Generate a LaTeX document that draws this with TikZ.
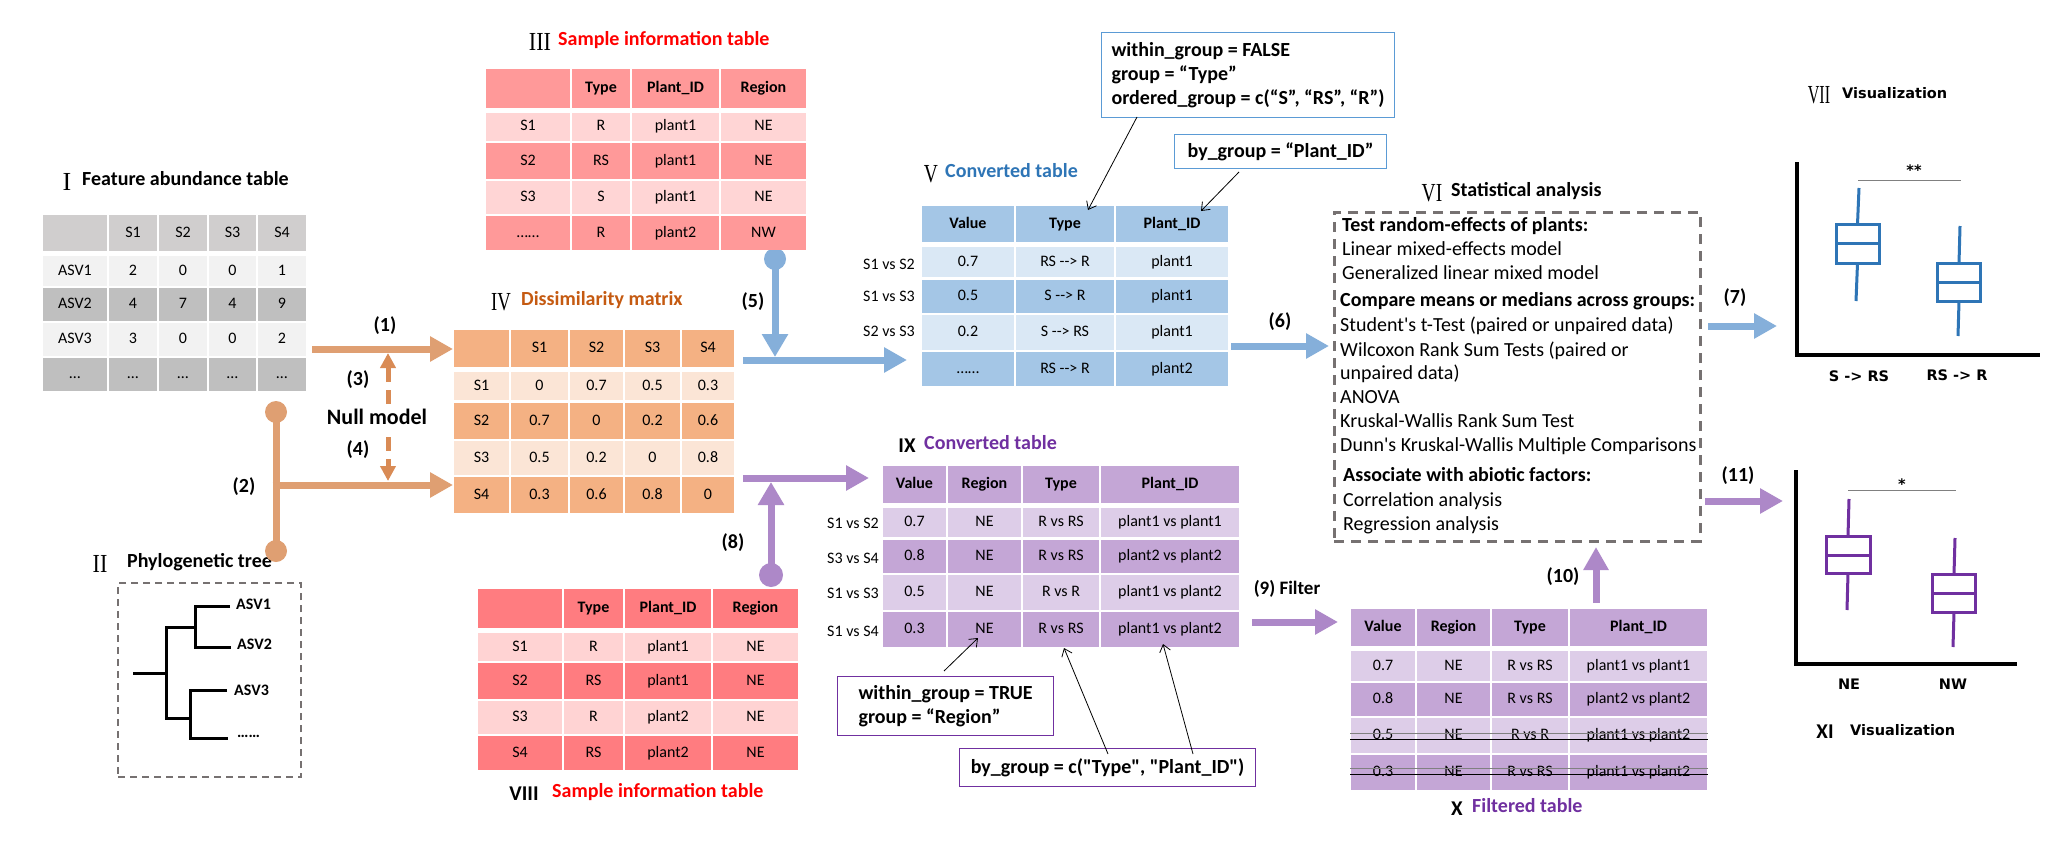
\documentclass[tikz,border=0pt]{standalone}
\usepackage{graphicx}
\usepackage{fontspec}
\setmainfont{Carlito}[Ligatures=TeXOff]
\newfontfamily\serifnum{Liberation Serif}
\newfontfamily\dvs{DejaVu Sans}[Ligatures=TeXOff]
\usetikzlibrary{arrows.meta}
\definecolor{cGa}{HTML}{D0CECE}\definecolor{cGl}{HTML}{F2F2F2}\definecolor{cGd}{HTML}{BFBFBF}
\definecolor{cPa}{HTML}{FF9999}\definecolor{cPl}{HTML}{FFD5D5}
\definecolor{cRd}{HTML}{FF7C80}\definecolor{cRl}{HTML}{FFD3D3}
\definecolor{cOd}{HTML}{F4B183}\definecolor{cOl}{HTML}{FBE5D6}
\definecolor{cBd}{HTML}{A4C6E6}\definecolor{cBl}{HTML}{DAE8F5}
\definecolor{cVd}{HTML}{C4A6D6}\definecolor{cVl}{HTML}{DDCDE8}
\definecolor{aO}{HTML}{DF9F72}\definecolor{aOd}{HTML}{D98B55}
\definecolor{aB}{HTML}{85AFDA}\definecolor{aV}{HTML}{AD88C8}
\definecolor{tRed}{HTML}{FF0000}\definecolor{tOr}{HTML}{C55A11}
\definecolor{tBl}{HTML}{2E75B6}\definecolor{tVi}{HTML}{7030A0}
\definecolor{bxg}{HTML}{767171}\definecolor{cbB}{HTML}{5B9BD5}
\newcommand\tf{\fontsize{16}{19}\selectfont}
\newcommand\tfb{\bfseries\fontsize{16}{19}\selectfont}
\newcommand\rn[2]{\scalebox{#1}[1]{#2}}
\newcommand\trow[6]{\foreach \xa/\xb/\tx [count=\ci] in {#6}{\node[cell,fill=#4,font=#5,minimum width={(\xb-\xa)*1pt},minimum height={(#3-#2)*1pt}] (#1-\ci) at ({(\xa+\xb)/2},{(#2+#3)/2}) {\tx};}}
\pgfdeclarelayer{bg}\pgfsetlayers{bg,main}
\begin{document}
\begin{tikzpicture}[x=1pt,y=-1pt,font=\tf,
  cell/.style={inner sep=0pt,text height=10pt,text depth=2pt,align=center},
  tnum/.style={font=\serifnum\fontsize{26}{26}\selectfont,inner sep=0pt},
  snum/.style={font=\bfseries\fontsize{21}{22}\selectfont,inner sep=0pt},
  ttl/.style={font=\bfseries\fontsize{20}{24}\selectfont,anchor=mid west,inner sep=0pt},
  lbl/.style={font=\bfseries\fontsize{20}{24}\selectfont,inner sep=0pt},
  dlbl/.style={font=\dvs\bfseries\fontsize{14.5}{17}\selectfont,inner sep=0pt},
  rl/.style={font=\tf,inner sep=0pt},
  stt/.style={font=\fontsize{20}{24}\selectfont,anchor=mid west,inner sep=0pt},
  sttb/.style={font=\bfseries\fontsize{20}{24}\selectfont,anchor=mid west,inner sep=0pt},
  fat/.style={line width=7pt,-{Triangle[length=23pt,width=24pt]}},
  dsh/.style={line width=5pt,dash pattern=on 14pt off 8pt,color=aOd,-{Triangle[length=15pt,width=15pt]}},
  callout/.style={font=\bfseries\fontsize{20}{24}\selectfont,inner sep=0pt,line width=1.2pt},
  carr/.style={black,line width=0.8pt,-{Straight Barb[length=7pt,width=11pt]}},
  bp/.style={line width=3pt}]
\useasboundingbox (0,0) rectangle (2068,864);
\begin{pgfonlayer}{bg}
\fill[white] (0,0) rectangle (2068,864);
\end{pgfonlayer}

% ---------- I Feature abundance table
\node[tnum] (n1) at (67,182) {I};
\node[ttl] (ti1) at (82,183) {Feature abundance table};
\trow{t1h}{215}{251}{cGa}{\tf}{43/107/{},109/157/S1,159/207/S2,209/256/S3,258/306/S4}
\trow{t1a}{256}{286}{cGl}{\tf}{43/107/ASV1,109/157/2,159/207/0,209/256/0,258/306/1}
\trow{t1b}{288}{321}{cGd}{\tf}{43/107/ASV2,109/157/4,159/207/7,209/256/4,258/306/9}
\trow{t1c}{323}{356}{cGl}{\tf}{43/107/ASV3,109/157/3,159/207/0,209/256/0,258/306/2}
\trow{t1d}{358}{391}{cGd}{\tf}{43/107/…,109/157/…,159/207/…,209/256/…,258/306/…}

% ---------- II Phylogenetic tree
\node[tnum] (n2) at (100,564) {\rn{0.85}{II}};
\node[ttl] (ti2) at (127,565) {Phylogenetic tree};
\node[draw=bxg,line width=2pt,dash pattern=on 7pt off 5pt,minimum width=183pt,minimum height=194pt,inner sep=0pt] (treebox) at (209.5,680) {};
\draw[line width=3pt] (133,673) -- (166,673);
\draw[line width=3pt] (195,627) -- (166,627) -- (166,718) -- (190,718);
\draw[line width=3pt] (230,606) -- (195,606) -- (195,647) -- (231,647);
\draw[line width=3pt] (227,690) -- (190,690) -- (190,738) -- (228,738);
\node[font=\tfb,anchor=mid west,inner sep=0pt] (asv1) at (236,607) {ASV1};
\node[font=\tfb,anchor=mid west,inner sep=0pt] (asv2) at (237,647) {ASV2};
\node[font=\tfb,anchor=mid west,inner sep=0pt] (asv3) at (234,693) {ASV3};
\node[font=\tfb,anchor=base west,inner sep=0pt] (asvd) at (237,737) {……};

% ---------- III Sample information table
\node[tnum] (n3) at (540,42) {\rn{0.85}{III}};
\node[ttl,text=tRed] (ti3) at (558,43) {Sample information table};
\trow{t3h}{69}{108}{cPa}{\tfb}{486/570/{},572/630/Type,632/719/Plant\_ID,721/806/Region}
\trow{t3a}{113}{141}{cPl}{\tf}{486/570/S1,572/630/R,632/719/plant1,721/806/NE}
\trow{t3b}{143}{179}{cPa}{\tf}{486/570/S2,572/630/RS,632/719/plant1,721/806/NE}
\trow{t3c}{181}{214}{cPl}{\tf}{486/570/S3,572/630/S,632/719/plant1,721/806/NE}
\trow{t3d}{216}{250}{cPa}{\tf}{486/570/……,572/630/R,632/719/plant2,721/806/NW}

% ---------- IV Dissimilarity matrix
\node[tnum] (n4) at (501,302) {\rn{0.72}{IV}};
\node[ttl,text=tOr] (ti4) at (521,303) {Dissimilarity matrix};
\trow{t4h}{330}{367}{cOd}{\tf}{454/509/{},511/568/S1,570/623/S2,625/680/S3,682/734/S4}
\trow{t4a}{372}{400}{cOl}{\tf}{454/509/S1,511/568/0,570/623/0.7,625/680/0.5,682/734/0.3}
\trow{t4b}{403}{439}{cOd}{\tf}{454/509/S2,511/568/0.7,570/623/0,625/680/0.2,682/734/0.6}
\trow{t4c}{441}{475}{cOl}{\tf}{454/509/S3,511/568/0.5,570/623/0.2,625/680/0,682/734/0.8}
\trow{t4d}{477}{513}{cOd}{\tf}{454/509/S4,511/568/0.3,570/623/0.6,625/680/0.8,682/734/0}

% ---------- V Converted table
\node[tnum] (n5) at (931,174) {\rn{0.75}{V}};
\node[ttl,text=tBl] (ti5) at (945,175) {Converted table};
\trow{t5h}{206}{242}{cBd}{\tfb}{922/1014/Value,1016/1114/Type,1116/1228/Plant\_ID}
\trow{t5a}{247}{277}{cBl}{\tf}{922/1014/0.7,1016/1114/RS --> R,1116/1228/plant1}
\trow{t5b}{280}{313}{cBd}{\tf}{922/1014/0.5,1016/1114/S --> R,1116/1228/plant1}
\trow{t5c}{315}{350}{cBl}{\tf}{922/1014/0.2,1016/1114/S --> RS,1116/1228/plant1}
\trow{t5d}{352}{386}{cBd}{\tf}{922/1014/……,1016/1114/RS --> R,1116/1228/plant2}
\node[rl] (v1) at (889,264) {S1 vs S2};
\node[rl] (v2) at (889,296) {S1 vs S3};
\node[rl] (v3) at (889,331) {S2 vs S3};
\node[callout,draw=cbB,minimum width=293pt,minimum height=85pt,anchor=north west,align=left] (cb1) at (1101,32) {within\_group = FALSE\\ group = “Type”\\ ordered\_group = c(“S”, “RS”, “R”)};
\node[callout,draw=cbB,minimum width=212pt,minimum height=34pt,anchor=north west] (cb2) at (1174,134) {by\_group = “Plant\_ID”};
\coordinate (c1a) at (1137,117); \coordinate (c1b) at (1088,210);
\coordinate (c2a) at (1239,172); \coordinate (c2b) at (1201,211);
\draw[carr] (c1a) -- (c1b);
\draw[carr] (c2a) -- (c2b);

% ---------- VI Statistical analysis
\node[tnum] (n6) at (1432,193) {\rn{0.75}{VI}};
\node[ttl] (ti6) at (1451,194) {Statistical analysis};
\node[draw=bxg,line width=3pt,dash pattern=on 10pt off 7pt,minimum width=366pt,minimum height=329pt,inner sep=0pt] (stat) at (1517,376.5) {};
\node[sttb] (sh1) at (1342,229) {Test random-effects of plants:};
\node[sttb] (sh2) at (1340,304) {Compare means or medians across groups:};
\node[sttb] (sh3) at (1343,479) {Associate with abiotic factors:};
\foreach \yy/\sline/\xx [count=\k] in {253/Linear mixed-effects model/1342, 277/Generalized linear mixed model/1342, 329/Student's t-Test (paired or unpaired data)/1340, 354/Wilcoxon Rank Sum Tests (paired or/1340, 377/unpaired data)/1340, 401/ANOVA/1340, 425/Kruskal-Wallis Rank Sum Test/1340, 449/Dunn's Kruskal-Wallis Multiple Comparisons/1340, 504/Correlation analysis/1343, 528/Regression analysis/1343}
  {\node[stt] (sl\k) at (\xx,\yy) {\sline};}

% ---------- VII Visualization
\node[tnum] (n7) at (1819,95) {\rn{0.62}{VII}};
\node[dlbl,anchor=mid west] (ti7) at (1842,96) {Visualization};
\draw[line width=3.5pt] (1797,162) -- (1797,355) -- (2040,355);
\draw[gray,line width=1pt] (1858,180) -- (1961,180);
\node[dlbl] (sig1) at (1914,170) {**};
\draw[bp,tBl] (1836,224) rectangle (1879,263);
\draw[bp,tBl] (1836,243) -- (1879,243);
\draw[bp,tBl] (1859,188) -- (1857.5,224);
\draw[bp,tBl] (1857.5,263) -- (1856,301);
\draw[bp,tBl] (1937,263) rectangle (1980,301);
\draw[bp,tBl] (1937,282) -- (1980,282);
\draw[bp,tBl] (1960,226) -- (1959,263);
\draw[bp,tBl] (1959,301) -- (1958,336);
\node[dlbl] (xl1) at (1859,376) {S -> RS};
\node[dlbl] (xl2) at (1957,375) {RS -> R};

% ---------- XI Visualization
\node[snum] (n11) at (1825,732) {XI};
\node[dlbl,anchor=mid west] (ti11) at (1850,733) {Visualization};
\draw[line width=3.5pt] (1796,470) -- (1796,664) -- (2017,664);
\draw[gray,line width=1pt] (1848,490) -- (1956,490);
\node[dlbl] (sig2) at (1902,484) {*};
\draw[bp,tVi] (1826,536) rectangle (1870,573);
\draw[bp,tVi] (1826,555) -- (1870,555);
\draw[bp,tVi] (1849,499) -- (1848,536);
\draw[bp,tVi] (1848,573) -- (1847,610);
\draw[bp,tVi] (1932,574) rectangle (1975,612);
\draw[bp,tVi] (1932,593) -- (1975,593);
\draw[bp,tVi] (1955,538) -- (1954,574);
\draw[bp,tVi] (1954,612) -- (1953,647);
\node[dlbl] (xl3) at (1849,684) {NE};
\node[dlbl] (xl4) at (1953,684) {NW};

% ---------- VIII Sample information table
\node[snum] (n8) at (524,794) {VIII};
\node[ttl,text=tRed] (ti8) at (552,795) {Sample information table};
\trow{t8h}{589}{628}{cRd}{\tfb}{478/562/{},564/623/Type,625/711/Plant\_ID,713/798/Region}
\trow{t8a}{633}{661}{cRl}{\tf}{478/562/S1,564/623/R,625/711/plant1,713/798/NE}
\trow{t8b}{663}{699}{cRd}{\tf}{478/562/S2,564/623/RS,625/711/plant1,713/798/NE}
\trow{t8c}{701}{734}{cRl}{\tf}{478/562/S3,564/623/R,625/711/plant2,713/798/NE}
\trow{t8d}{736}{770}{cRd}{\tf}{478/562/S4,564/623/RS,625/711/plant2,713/798/NE}

% ---------- IX Converted table
\node[snum] (n9) at (907,446) {IX};
\node[ttl,text=tVi] (ti9) at (924,447) {Converted table};
\trow{t9h}{466}{503}{cVd}{\tfb}{883/946/Value,948/1021/Region,1023/1099/Type,1101/1239/Plant\_ID}
\trow{t9a}{508}{537}{cVl}{\tf}{883/946/0.7,948/1021/NE,1023/1099/R vs RS,1101/1239/plant1 vs plant1}
\trow{t9b}{540}{573}{cVd}{\tf}{883/946/0.8,948/1021/NE,1023/1099/R vs RS,1101/1239/plant2 vs plant2}
\trow{t9c}{575}{610}{cVl}{\tf}{883/946/0.5,948/1021/NE,1023/1099/R vs R,1101/1239/plant1 vs plant2}
\trow{t9d}{612}{647}{cVd}{\tf}{883/946/0.3,948/1021/NE,1023/1099/R vs RS,1101/1239/plant1 vs plant2}
\node[rl] (w1) at (853,523) {S1 vs S2};
\node[rl] (w2) at (853,558) {S3 vs S4};
\node[rl] (w3) at (853,593) {S1 vs S3};
\node[rl] (w4) at (853,631) {S1 vs S4};
\node[callout,draw=tVi,minimum width=216pt,minimum height=59pt,anchor=north west,align=left] (cb3) at (837,676) {within\_group = TRUE\\ group = “Region”};
\node[callout,draw=tVi,minimum width=296pt,minimum height=38pt,anchor=north west] (cb4) at (959,748) {by\_group = c("Type", "Plant\_ID")};
\coordinate (c3a) at (944,671); \coordinate (c3b) at (978,638);
\coordinate (c4a) at (1108,754); \coordinate (c4b) at (1064,648);
\coordinate (c5a) at (1193,754); \coordinate (c5b) at (1163,644);
\draw[carr] (c3a) -- (c3b);
\draw[carr] (c4a) -- (c4b);
\draw[carr] (c5a) -- (c5b);

% ---------- X Filtered table
\node[snum] (n10) at (1457,809) {X};
\node[ttl,text=tVi] (ti10) at (1472,810) {Filtered table};
\trow{tah}{609}{646}{cVd}{\tfb}{1351/1415/Value,1417/1490/Region,1492/1568/Type,1570/1707/Plant\_ID}
\trow{taa}{651}{681}{cVl}{\tf}{1351/1415/0.7,1417/1490/NE,1492/1568/R vs RS,1570/1707/plant1 vs plant1}
\trow{tab}{683}{716}{cVd}{\tf}{1351/1415/0.8,1417/1490/NE,1492/1568/R vs RS,1570/1707/plant2 vs plant2}
\trow{tac}{718}{753}{cVl}{\tf}{1351/1415/0.5,1417/1490/NE,1492/1568/R vs R,1570/1707/plant1 vs plant2}
\trow{tad}{755}{790}{cVd}{\tf}{1351/1415/0.3,1417/1490/NE,1492/1568/R vs RS,1570/1707/plant1 vs plant2}
\draw[gray,line width=1pt] (1350,733) -- (1708,733);
\draw[black,line width=0.8pt] (1350,739) -- (1708,739);
\draw[gray,line width=1pt] (1350,768) -- (1708,768);
\draw[black,line width=0.8pt] (1350,774) -- (1708,774);

% ---------- connectors
\coordinate (o1a) at (312,349); \coordinate (o1b) at (453,349);
\coordinate (o2t) at (276,412); \coordinate (o2b) at (276,551);
\coordinate (o2m) at (276,485); \coordinate (o2e) at (453,485);
\coordinate (o3a) at (388,404); \coordinate (o3b) at (388,353);
\coordinate (o4a) at (388,437); \coordinate (o4b) at (388,481);
\draw[fat,aO] (o1a) -- (o1b);
\draw[line width=7pt,aO] (o2t) -- (o2b);
\fill[aO] (o2t) circle (11pt) (o2b) circle (11pt);
\draw[fat,aO] ([xshift=-3.5pt]o2m) -- (o2e);
\draw[dsh] (o3a) -- (o3b);
\draw[dsh] (o4a) -- (o4b);
\node[lbl] (l1) at (385,326) {(1)};
\node[lbl] (l2) at (244,487) {(2)};
\node[lbl] (l3) at (358,380) {(3)};
\node[lbl,font=\bfseries\fontsize{22}{24}\selectfont] (lnull) at (377,417) {Null model};
\node[lbl] (l4) at (358,450) {(4)};

\coordinate (b5c) at (775,259); \coordinate (b5t) at (775,357);
\coordinate (b5a) at (743,360); \coordinate (b5b) at (907,360);
\begin{pgfonlayer}{bg}
\fill[aB] (b5c) circle (11pt);
\draw[line width=7pt,aB,-{Triangle[length=23pt,width=25pt]}] (b5c) -- (b5t);
\end{pgfonlayer}
\draw[fat,aB] (b5a) -- (b5b);
\node[lbl] (l5) at (753,302) {(5)};

\coordinate (p8c) at (771,575); \coordinate (p8t) at (771,482);
\coordinate (p8a) at (743,478); \coordinate (p8b) at (869,478);
\fill[aV] (p8c) circle (12pt);
\draw[line width=7pt,aV,-{Triangle[length=23pt,width=25pt]}] (p8c) -- (p8t);
\draw[fat,aV] (p8a) -- (p8b);
\node[lbl] (l8) at (733,543) {(8)};

\coordinate (b6a) at (1231,346); \coordinate (b6b) at (1329,346);
\draw[fat,aB] (b6a) -- (b6b);
\node[lbl] (l6) at (1280,322) {(6)};

\coordinate (b7a) at (1708,326); \coordinate (b7b) at (1777,326);
\draw[fat,aB] (b7a) -- (b7b);
\node[lbl] (l7) at (1735,298) {(7)};

\coordinate (p9a) at (1252,622); \coordinate (p9b) at (1338,622);
\draw[fat,aV] (p9a) -- (p9b);
\node[lbl,font=\bfseries\fontsize{19}{24}\selectfont] (l9) at (1287,589) {(9) Filter};

\coordinate (p10a) at (1596,603); \coordinate (p10b) at (1596,547);
\draw[fat,aV] (p10a) -- (p10b);
\node[lbl] (l10) at (1563,577) {(10)};

\coordinate (p11a) at (1705,501); \coordinate (p11b) at (1783,501);
\draw[fat,aV] (p11a) -- (p11b);
\node[lbl] (l11) at (1738,476) {(11)};
\end{tikzpicture}
\end{document}
